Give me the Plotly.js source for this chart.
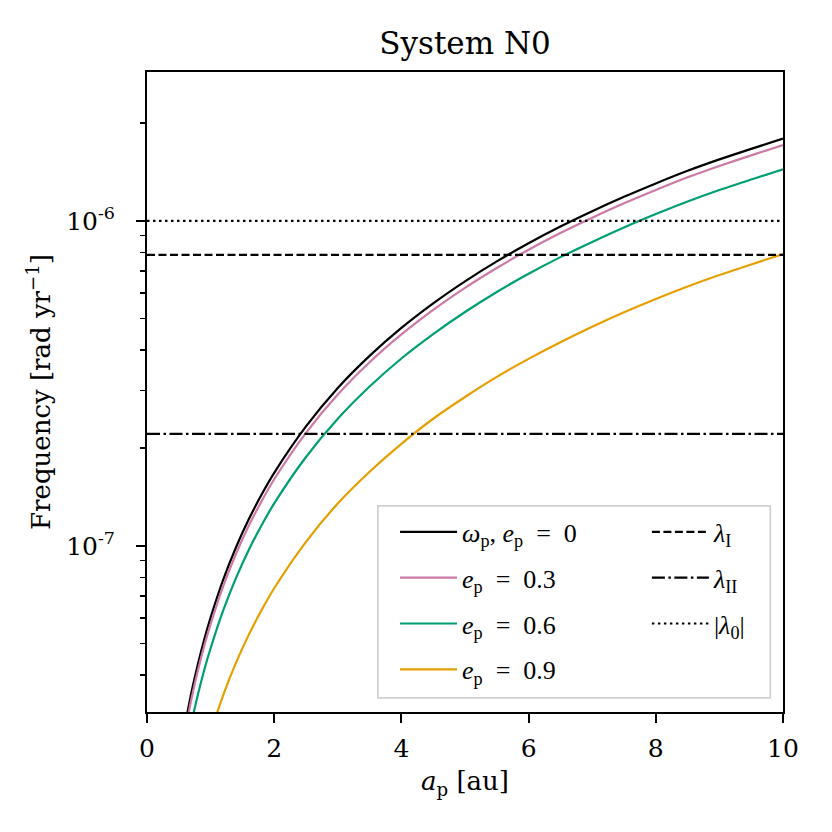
<!DOCTYPE html>
<html>
<head>
<meta charset="utf-8">
<script src="https://cdn.plot.ly/plotly-3.0.1.min.js"></script>
<style>
  html, body { margin: 0; padding: 0; background: #fff; }
  #plot { width: 832px; height: 832px; }
</style>
</head>
<body>
<div id="plot"></div>
<script>
// semi-major axis of the planet [au]
let aP = [0.6, 0.7, 0.8, 0.9, 1.0, 1.2, 1.4, 1.6, 1.8, 2.0, 2.5, 3.0, 3.5, 4.0, 4.5,
          5.0, 5.5, 6.0, 6.5, 7.0, 7.5, 8.0, 8.5, 9.0, 9.5, 10.0];

// precession frequency [rad/yr] (units of 1e-8)
let wE00 = [2.82, 3.55, 4.32, 5.15, 6.01, 7.88, 9.90, 12.06, 14.35, 16.77, 23.3, 30.6, 38.4,
            46.8, 55.7, 65.1, 75.0, 85.3, 96.0, 107.0, 118.5, 130.3, 142.5, 154.5, 166.5, 179.0];
let wE03 = [2.69, 3.39, 4.13, 4.92, 5.74, 7.53, 9.45, 11.52, 13.70, 16.02, 22.25, 29.2, 36.7,
            44.7, 53.2, 62.2, 71.6, 81.5, 91.7, 102.2, 113.2, 124.4, 136.1, 147.5, 159.0, 171.0];
let wE06 = [2.27, 2.86, 3.48, 4.15, 4.84, 6.34, 7.97, 9.71, 11.55, 13.50, 18.76, 24.6, 30.9,
            37.7, 44.8, 52.4, 60.4, 68.7, 77.3, 86.1, 95.4, 104.9, 114.7, 124.4, 134.0, 144.0];
let wE09 = [1.24, 1.57, 1.91, 2.27, 2.65, 3.48, 4.37, 5.32, 6.33, 7.40, 10.28, 13.5, 16.9,
            20.6, 24.6, 28.7, 33.1, 37.6, 42.3, 47.2, 52.3, 57.5, 62.8, 68.1, 73.4, 79.0];

// system eigenfrequencies [rad/yr]
let lambdaI = 7.85e-7;
let lambdaII = 2.21e-7;
let lambda0 = 1.0e-6;

let xSpan = [0, 10];

let yMajor = [1e-7, 1e-6];
let yMajorText = ['10<sup>-7</sup>', '10<sup>-6</sup>'];
let yMinor = [3e-8, 4e-8, 5e-8, 6e-8, 7e-8, 8e-8, 9e-8,
              2e-7, 3e-7, 4e-7, 5e-7, 6e-7, 7e-7, 8e-7, 9e-7, 2e-6];

function scaled(arr) {
    return arr.map(v => v * 1e-8);
}

let serif = 'DejaVu Serif, serif';
let mathFont = 'Liberation Serif, serif';
let sp = '\u2002';

function curve(vals, colour, name, grp) {
    return {
        x: aP, y: scaled(vals), mode: 'lines', name: name,
        line: {color: colour, width: 2.2, shape: 'spline', smoothing: 0.8},
        legend: 'legend', legendgroup: grp
    };
}

function hline(val, dash, name, grp) {
    return {
        x: xSpan, y: [val, val], mode: 'lines', name: name,
        line: {color: '#000', width: 2.2, dash: dash},
        legend: 'legend2', legendgroup: grp
    };
}

let data = [
    curve(wE00, '#000000', '<i>ω</i><sub>p</sub>, <i>e</i><sub>p</sub>' + sp + '=' + sp + '0', 'g1'),
    curve(wE03, '#CC79A7', '<i>e</i><sub>p</sub>' + sp + '=' + sp + '0.3', 'g2'),
    curve(wE06, '#009E73', '<i>e</i><sub>p</sub>' + sp + '=' + sp + '0.6', 'g3'),
    curve(wE09, '#E69F00', '<i>e</i><sub>p</sub>' + sp + '=' + sp + '0.9', 'g4'),
    hline(lambdaI, '8px,3.5px', '<i>λ</i><sub>I</sub>', 'h1'),
    hline(lambdaII, '13px,3.5px,2.5px,3.5px', '<i>λ</i><sub>II</sub>', 'h2'),
    hline(lambda0, '2.5px,3.5px', '|<i>λ</i><sub>0</sub>|', 'h3')
];

let legendCommon = {
    bgcolor: 'rgba(0,0,0,0)',
    borderwidth: 0,
    font: {family: mathFont, size: 26, color: '#000'},
    traceorder: 'grouped',
    tracegroupgap: 9,
    itemwidth: 57,
    xanchor: 'left',
    yanchor: 'top'
};

let layout = {
    width: 832,
    height: 832,
    paper_bgcolor: '#fff',
    plot_bgcolor: '#fff',
    margin: {l: 147, r: 49, t: 72, b: 120, pad: 0},
    showlegend: true,
    font: {family: serif, color: '#000'},
    title: {
        text: 'System N0',
        font: {family: serif, size: 31, color: '#000'},
        xref: 'paper', x: 0.5, xanchor: 'center',
        yref: 'container', y: 0.948, yanchor: 'middle'
    },
    xaxis: {
        range: [0, 10],
        tickvals: [0, 2, 4, 6, 8, 10],
        ticks: 'outside', ticklen: 9, tickwidth: 2, tickcolor: '#000',
        ticklabelstandoff: 4,
        tickfont: {family: serif, size: 25, color: '#000'},
        showgrid: false, zeroline: false,
        showline: true, linecolor: '#000', linewidth: 2, mirror: true,
        title: {
            text: '<i>a</i><sub>p</sub> [au]',
            font: {family: serif, size: 26, color: '#000'},
            standoff: 10
        }
    },
    yaxis: {
        type: 'log',
        range: [Math.log10(3.08e-8), Math.log10(2.87e-6)],
        tickmode: 'array',
        tickvals: yMajor,
        ticktext: yMajorText,
        ticks: 'outside', ticklen: 9, tickwidth: 2, tickcolor: '#000',
        ticklabelstandoff: 16,
        tickfont: {family: serif, size: 25, color: '#000'},
        minor: {
            tickmode: 'array', tickvals: yMinor,
            ticks: 'outside', ticklen: 5, tickwidth: 1.5, tickcolor: '#000',
            showgrid: false
        },
        showgrid: false, zeroline: false,
        showline: true, linecolor: '#000', linewidth: 2, mirror: true,
        title: {
            text: 'Frequency [rad yr<sup>−1</sup>]',
            font: {family: serif, size: 26, color: '#000'},
            standoff: 8
        }
    },
    legend: Object.assign({}, legendCommon, {x: 0.390, y: 0.318}),
    legend2: Object.assign({}, legendCommon, {x: 0.786, y: 0.318}),
    shapes: [{
        type: 'rect', xref: 'paper', yref: 'paper',
        x0: 0.363, x1: 0.98, y0: 0.022, y1: 0.322,
        line: {color: '#d0d0d0', width: 1.8},
        fillcolor: 'rgba(255,255,255,0.8)',
        layer: 'above'
    }]
};

Plotly.newPlot('plot', data, layout, {staticPlot: true});
</script>
</body>
</html>
